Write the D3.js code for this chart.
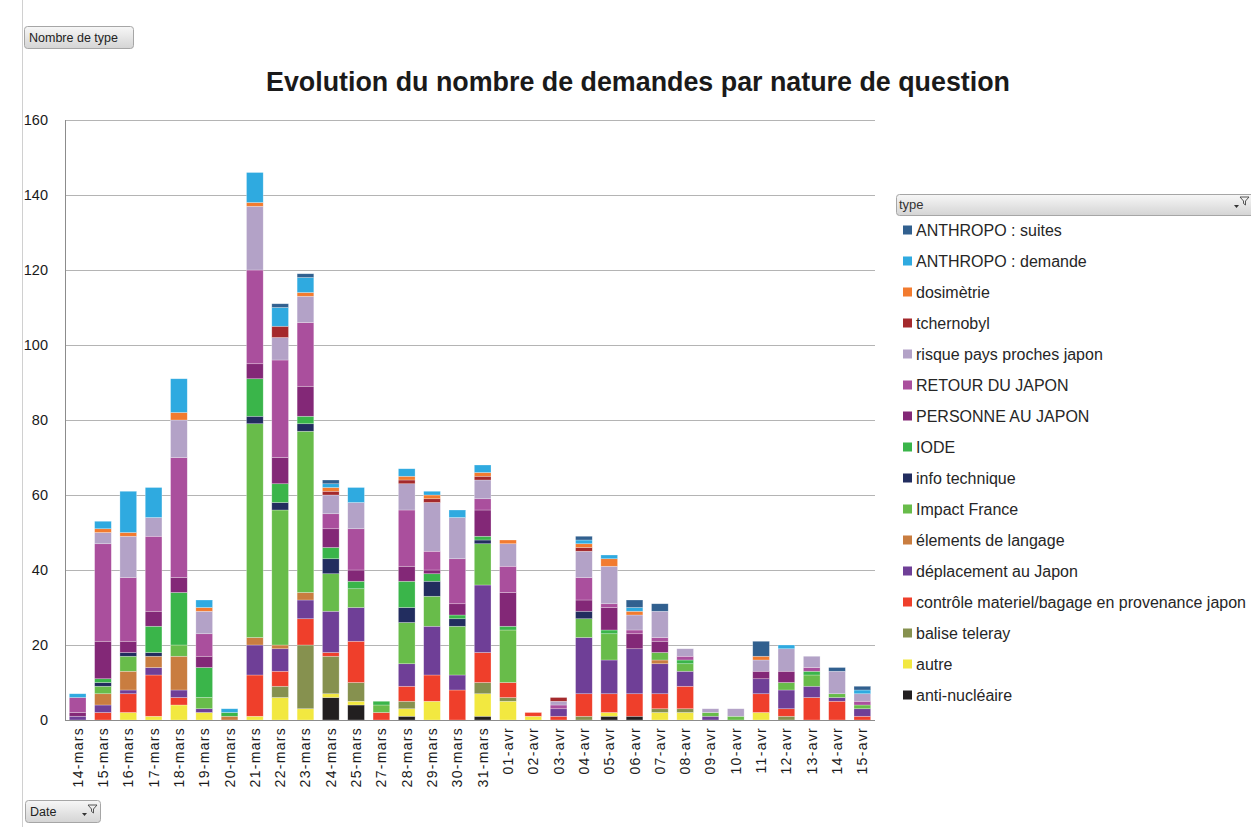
<!DOCTYPE html>
<html>
<head>
<meta charset="utf-8">
<script src="https://cdn.jsdelivr.net/npm/d3@7"></script>
<style>
  body { margin: 0; background: #fff; }
  svg { display: block; font-family: "Liberation Sans", Arial, sans-serif; }
</style>
</head>
<body>
<svg width="1251" height="827"></svg>
<script>
// dates on the x axis (no 26-mars in the source)
var dates = ["14-mars","15-mars","16-mars","17-mars","18-mars","19-mars","20-mars","21-mars","22-mars","23-mars",
  "24-mars","25-mars","27-mars","28-mars","29-mars","30-mars","31-mars","01-avr","02-avr","03-avr","04-avr",
  "05-avr","06-avr","07-avr","08-avr","09-avr","10-avr","11-avr","12-avr","13-avr","14-avr","15-avr"];

// one array per type, same order as dates
var antiNucleaire = [0,0,0,0,0,0,0,0,0,0,6,4,0,1,0,0,1,0,0,0,0,1,1,0,0,0,0,0,0,0,0,0];
var autre         = [0,0,2,1,4,2,0,1,6,3,1,1,0,2,5,0,6,5,1,0,0,1,0,2,2,0,0,2,0,0,0,0];
var balise        = [0,0,0,0,0,0,0,0,3,17,10,5,0,2,0,0,3,1,0,0,1,0,0,1,1,0,0,0,1,0,0,0];
var controle      = [0,2,5,11,2,0,0,11,4,7,1,11,2,4,7,8,8,4,1,1,6,5,6,4,6,0,0,5,2,6,5,1];
var deplacement   = [1,2,1,2,2,1,0,8,6,5,11,9,0,6,13,4,18,0,0,2,15,9,12,8,4,1,0,4,5,3,1,2];
var elements      = [0,3,5,3,9,0,1,2,1,2,0,0,0,0,0,0,0,0,0,0,0,0,0,1,0,0,0,0,0,0,0,0];
var impactFrance  = [0,2,4,0,3,3,0,57,36,43,10,5,2,11,8,13,11,14,0,0,5,7,0,2,2,1,1,0,2,3,1,1];
var infoTech      = [0,1,1,1,0,0,0,2,2,2,4,0,0,4,4,2,1,0,0,0,2,0,0,0,0,0,0,0,0,0,0,0];
var iode          = [0,1,0,7,14,8,1,10,5,2,3,2,1,7,2,1,1,1,0,0,0,1,0,0,1,0,0,0,0,1,0,0];
var personne      = [1,10,3,4,4,3,0,4,7,8,5,3,0,4,1,3,7,9,0,0,3,6,4,3,0,0,0,2,3,0,0,0];
var retour        = [4,26,17,20,32,6,0,25,26,17,4,11,0,15,5,12,3,7,0,1,6,1,1,1,1,0,0,0,0,1,0,1];
var risque        = [0,3,11,5,10,6,0,17,6,7,5,7,0,7,13,11,5,6,0,1,7,10,4,7,2,1,2,3,6,3,6,2];
var tchernobyl    = [0,0,0,0,0,0,0,0,3,0,1,0,0,1,1,0,1,0,0,1,1,0,0,0,0,0,0,0,0,0,0,0];
var dosimetrie    = [0,1,1,0,2,1,0,1,0,1,1,0,0,1,1,0,1,1,0,0,1,2,1,0,0,0,0,1,0,0,0,0];
var anthroDemande = [1,2,11,8,9,2,1,8,5,4,1,4,0,2,1,2,2,0,0,0,1,1,1,0,0,0,0,0,1,0,0,1];
var anthroSuites  = [0,0,0,0,0,0,0,0,1,1,1,0,0,0,0,0,0,0,0,0,1,0,2,2,0,0,0,4,0,0,1,1];

// stacking order, bottom to top
var types = ["anti-nucléaire","autre","balise teleray","contrôle materiel/bagage en provenance japon",
  "déplacement au Japon","élements de langage","Impact France","info technique","IODE",
  "PERSONNE AU JAPON","RETOUR DU JAPON","risque pays proches japon","tchernobyl","dosimètrie",
  "ANTHROPO : demande","ANTHROPO : suites"];
var series = [antiNucleaire, autre, balise, controle, deplacement, elements, impactFrance, infoTech, iode,
  personne, retour, risque, tchernobyl, dosimetrie, anthroDemande, anthroSuites];
var colors = ["#221f20","#f2e840","#86914f","#ef3f2b","#6f3f97","#c97d40","#68bc4a","#222d5f","#3ab54a",
  "#832877","#aa4f9d","#b3a2c7","#a4292c","#f27b2f","#2faae0","#31608f"];
var yTicks = [0,20,40,60,80,100,120,140,160];

var rows = dates.map(function(d, i) {
  var r = {date: d};
  types.forEach(function(t, j) { r[t] = series[j][i]; });
  return r;
});

var svg = d3.select("svg");
var plotLeft = 65, plotRight = 875, plotTop = 120, plotBottom = 720;

var x = d3.scaleBand().domain(dates).range([plotLeft, plotRight]).paddingInner(0.34).paddingOuter(0.17);
var y = d3.scaleLinear().domain([0, 160]).range([plotBottom, plotTop]);
var color = d3.scaleOrdinal().domain(types).range(colors);

var defs = svg.append("defs");
var grad = defs.append("linearGradient").attr("id", "btn").attr("x1", 0).attr("y1", 0).attr("x2", 0).attr("y2", 1);
grad.append("stop").attr("offset", "0%").attr("stop-color", "#f7f7f7");
grad.append("stop").attr("offset", "100%").attr("stop-color", "#d4d4d4");

svg.append("rect").attr("width", 1251).attr("height", 827).attr("fill", "#fff");
svg.append("line").attr("x1", 22.5).attr("x2", 22.5).attr("y1", 0).attr("y2", 827).attr("stroke", "#d0d0d0");

// gridlines + y labels
var yAxis = svg.append("g").attr("transform", "translate(" + plotLeft + ",0)")
  .call(d3.axisLeft(y).tickValues(yTicks).tickSize(-(plotRight - plotLeft)).tickPadding(17));
yAxis.select(".domain").remove();
yAxis.selectAll(".tick line").attr("stroke", "#b4b4b4");
yAxis.selectAll(".tick text").attr("font-size", 14.5).attr("fill", "#1a1a1a");

svg.append("line").attr("x1", plotLeft + 0.5).attr("x2", plotLeft + 0.5).attr("y1", plotTop).attr("y2", plotBottom)
  .attr("stroke", "#8c8c8c");

// stacked bars
var stack = d3.stack().keys(types);
svg.append("g").selectAll("g")
  .data(stack(rows))
  .enter().append("g")
    .attr("fill", function(d) { return color(d.key); })
  .selectAll("rect")
  .data(function(d) { return d.filter(function(s) { return s[1] > s[0]; }); })
  .enter().append("rect")
    .attr("x", function(d) { return x(d.data.date); })
    .attr("y", function(d) { return y(d[1]); })
    .attr("width", x.bandwidth())
    .attr("height", function(d) { return y(d[0]) - y(d[1]); })
    .attr("stroke", "#fff").attr("stroke-opacity", 0.45).attr("stroke-width", 0.6);

svg.append("line").attr("x1", plotLeft).attr("x2", plotRight).attr("y1", plotBottom + 0.5).attr("y2", plotBottom + 0.5)
  .attr("stroke", "#8c8c8c");

// rotated date labels
svg.append("g").selectAll("text")
  .data(dates)
  .enter().append("text")
    .attr("transform", function(d) { return "translate(" + (x(d) + x.bandwidth() / 2 + 5) + "," + (plotBottom + 7) + ") rotate(-90)"; })
    .attr("text-anchor", "end")
    .attr("font-size", 14)
    .attr("letter-spacing", 1.3)
    .attr("fill", "#1a1a1a")
    .text(function(d) { return d; });

// title
svg.append("text")
  .attr("x", 638).attr("y", 91)
  .attr("text-anchor", "middle")
  .attr("font-size", 27).attr("font-weight", "bold").attr("fill", "#1a1a1a")
  .attr("textLength", 744).attr("lengthAdjust", "spacingAndGlyphs")
  .text("Evolution du nombre de demandes par nature de question");

// field buttons
function button(x0, y0, w, label, filter) {
  var b = svg.append("g");
  b.append("rect").attr("x", x0 + 0.5).attr("y", y0 + 0.5).attr("width", w).attr("height", 22).attr("rx", 3)
    .attr("fill", "url(#btn)").attr("stroke", "#a6a6a6");
  b.append("text").attr("x", x0 + 5).attr("y", y0 + 16).attr("font-size", 12.5).attr("fill", "#222").text(label);
  if (filter) {
    var fx = x0 + w - 12;
    b.append("path").attr("d", "M" + fx + "," + (y0 + 5) + "h9l-3.5,4v4l-2,-1.5v-2.5z")
      .attr("fill", "none").attr("stroke", "#444").attr("stroke-width", 0.9);
    b.append("path").attr("d", "M" + (fx - 6) + "," + (y0 + 13) + "h5l-2.5,3z").attr("fill", "#333");
  }
}
button(24, 26, 109, "Nombre de type", false);
button(25, 800, 75, "Date", true);

// legend
var lx = 896, ly = 194;
svg.append("rect").attr("x", lx + 0.5).attr("y", ly + 0.5).attr("width", 370).attr("height", 21).attr("rx", 3)
  .attr("fill", "url(#btn)").attr("stroke", "#a6a6a6");
svg.append("text").attr("x", lx + 3).attr("y", ly + 15).attr("font-size", 13).attr("fill", "#333").text("type");
svg.append("path").attr("d", "M1240,197h9l-3.5,4v4l-2,-1.5v-2.5z").attr("fill", "none").attr("stroke", "#444").attr("stroke-width", 0.9);
svg.append("path").attr("d", "M1234,205h5l-2.5,3z").attr("fill", "#333");

var legend = svg.append("g").selectAll("g")
  .data(types.slice().reverse())
  .enter().append("g")
    .attr("transform", function(d, i) { return "translate(" + 903 + "," + (230 + i * 31) + ")"; });
legend.append("rect").attr("x", 0).attr("y", -4.5).attr("width", 9).attr("height", 9)
  .attr("fill", function(d) { return color(d); });
legend.append("text").attr("x", 13).attr("y", 0).attr("dy", "0.35em")
  .attr("font-size", 16).attr("fill", "#262626")
  .text(function(d) { return d; });
</script>
</body>
</html>
